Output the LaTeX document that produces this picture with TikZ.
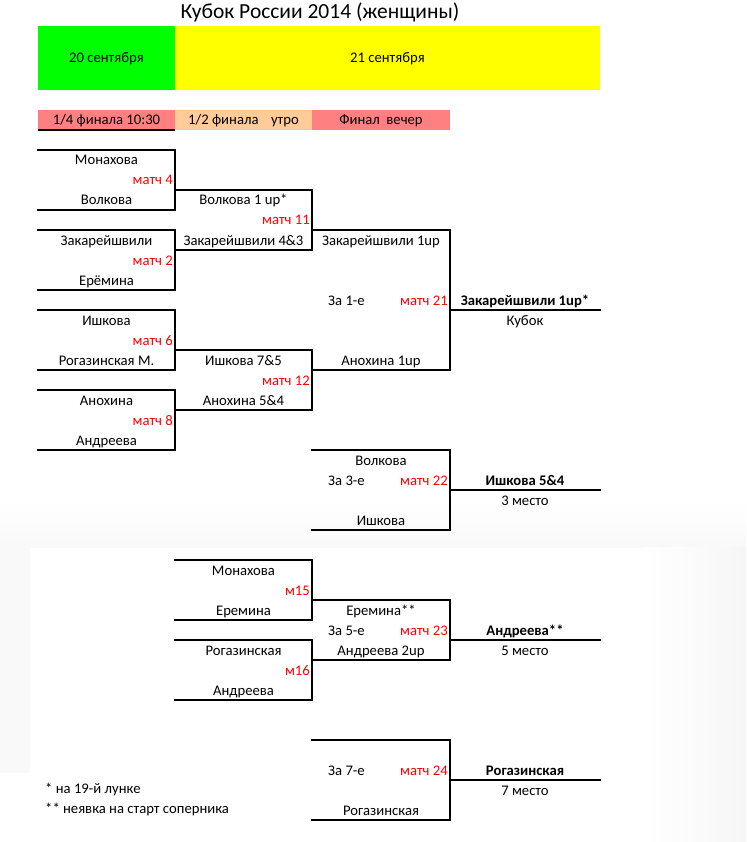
\documentclass[tikz,border=0pt]{standalone}
\usepackage{fontspec}
\setmainfont{Carlito}
\newcommand{\bodyfs}{\fontsize{14.67}{17}\selectfont}
\newcommand{\titlefs}{\fontsize{21.5}{25}\selectfont}
\definecolor{hgreen}{HTML}{00FF00}
\definecolor{hyellow}{HTML}{FFFF00}
\definecolor{hsalmon}{HTML}{FF8080}
\definecolor{hpeach}{HTML}{FFCC99}
\definecolor{mred}{HTML}{FF0000}
\begin{document}
\begin{tikzpicture}[x=1pt,y=-1pt,
  txt/.style={inner sep=0pt, anchor=base, font=\bodyfs, text=black},
  btxt/.style={txt, font=\bodyfs\bfseries},
  mtxt/.style={inner sep=0pt, anchor=base east, font=\bodyfs, text=mred},
  ltxt/.style={inner sep=0pt, anchor=base west, font=\bodyfs, text=black},
  brk/.style={line width=2pt, draw=black, line cap=rect}]
\useasboundingbox (0,0) rectangle (746,842);
% faint sheet background
\shade[top color=white, bottom color=black!2.5] (0,500) rectangle (746,547);
\fill[black!2.5] (0,547) rectangle (30,773);
\shade[left color=white, right color=black!3.5] (643,547) rectangle (746,842);
% title
\node[inner sep=0pt, anchor=base, font=\titlefs] (title) at (320,19) {Кубок России 2014 (женщины)};
% date header
\fill[hgreen] (38,26) rectangle (175,90);
\fill[hyellow] (175,26) rectangle (600,90);
\node[txt] (d20) at (106.5,63) {20 сентября};
\node[txt] (d21) at (387.5,63) {21 сентября};
% round header
\fill[hsalmon] (38,110) rectangle (175,130);
\fill[hpeach] (175,110) rectangle (312,130);
\fill[hsalmon] (312,110) rectangle (450,130);
\draw[line width=2pt] (38,130) -- (175,130);
\node[txt] (r1) at (106.5,125) {1/4 финала 10:30};
\node[txt] (r2) at (243.5,125) {1/2 финала\hspace{12.5pt}утро};
\node[txt] (r3) at (381,125) {Финал\hspace{6.6pt}вечер};
% ---------- brackets (upper) ----------
\draw[brk] (38,150) -- (175,150) -- (175,210) -- (38,210);
\draw[brk] (38,230) -- (175,230) -- (175,290) -- (38,290);
\draw[brk] (38,310) -- (175,310) -- (175,370) -- (38,370);
\draw[brk] (38,390) -- (175,390) -- (175,450) -- (38,450);
\draw[brk] (175,190) -- (312,190) -- (312,250) -- (175,250);
\draw[brk] (175,350) -- (312,350) -- (312,410) -- (175,410);
\draw[brk] (312,230) -- (450,230) -- (450,370) -- (312,370);
\draw[brk] (450,310) -- (600,310);
\draw[brk] (312,450) -- (450,450) -- (450,530) -- (312,530);
\draw[brk] (450,490) -- (600,490);
% ---------- brackets (lower) ----------
\draw[brk] (175,560) -- (312,560) -- (312,620) -- (175,620);
\draw[brk] (175,640) -- (312,640) -- (312,700) -- (175,700);
\draw[brk] (312,600) -- (450,600) -- (450,660) -- (312,660);
\draw[brk] (450,640) -- (600,640);
\draw[brk] (312,740) -- (450,740) -- (450,820) -- (312,820);
\draw[brk] (450,780) -- (600,780);
% ---------- quarter finals ----------
\node[txt] (q1a) at (106.5,165) {Монахова};
\node[mtxt] (m4) at (173,185) {матч 4};
\node[txt] (q1b) at (106.5,205) {Волкова};
\node[txt] (q2a) at (106.5,245) {Закарейшвили};
\node[mtxt] (m2) at (173,265) {матч 2};
\node[txt] (q2b) at (106.5,285) {Ерёмина};
\node[txt] (q3a) at (106.5,325) {Ишкова};
\node[mtxt] (m6) at (173,345) {матч 6};
\node[txt] (q3b) at (106.5,365) {Рогазинская М.};
\node[txt] (q4a) at (106.5,405) {Анохина};
\node[mtxt] (m8) at (173,425) {матч 8};
\node[txt] (q4b) at (106.5,445) {Андреева};
% ---------- semi finals ----------
\node[txt] (s1a) at (243.5,205) {Волкова 1 up*};
\node[mtxt] (m11) at (310,225) {матч 11};
\node[txt] (s1b) at (243.5,245) {Закарейшвили 4\&3};
\node[txt] (s2a) at (243.5,365) {Ишкова 7\&5};
\node[mtxt] (m12) at (310,385) {матч 12};
\node[txt] (s2b) at (243.5,405) {Анохина 5\&4};
% ---------- final ----------
\node[txt] (f1a) at (381,245) {Закарейшвили 1up};
\node[txt] (f1l) at (346.5,305) {За 1-е};
\node[mtxt] (m21) at (448,305) {матч 21};
\node[txt] (f1b) at (381,365) {Анохина 1up};
\node[btxt] (w1) at (525,305) {Закарейшвили 1up*};
\node[txt] (p1) at (525,325) {Кубок};
% ---------- 3rd place ----------
\node[txt] (t3a) at (381,465) {Волкова};
\node[txt] (t3l) at (346.5,485) {За 3-е};
\node[mtxt] (m22) at (448,485) {матч 22};
\node[txt] (t3b) at (381,525) {Ишкова};
\node[btxt] (w3) at (525,485) {Ишкова 5\&4};
\node[txt] (p3) at (525,505) {3 место};
% ---------- 5th place ----------
\node[txt] (c1a) at (243.5,575) {Монахова};
\node[mtxt] (m15) at (310,595) {м15};
\node[txt] (c1b) at (243.5,615) {Еремина};
\node[txt] (c2a) at (243.5,655) {Рогазинская};
\node[mtxt] (m16) at (310,675) {м16};
\node[txt] (c2b) at (243.5,695) {Андреева};
\node[txt] (t5a) at (381,615) {Еремина**};
\node[txt] (t5l) at (346.5,635) {За 5-е};
\node[mtxt] (m23) at (448,635) {матч 23};
\node[txt] (t5b) at (381,655) {Андреева 2up};
\node[btxt] (w5) at (525,635) {Андреева**};
\node[txt] (p5) at (525,655) {5 место};
% ---------- 7th place ----------
\node[txt] (t7l) at (346.5,775) {За 7-е};
\node[mtxt] (m24) at (448,775) {матч 24};
\node[txt] (t7b) at (381,815) {Рогазинская};
\node[btxt] (w7) at (525,775) {Рогазинская};
\node[txt] (p7) at (525,795) {7 место};
% ---------- footnotes ----------
\node[ltxt] (fn1) at (45,793) {* на 19-й лунке};
\node[ltxt] (fn2) at (45,813) {** неявка на старт соперника};
\end{tikzpicture}
\end{document}
